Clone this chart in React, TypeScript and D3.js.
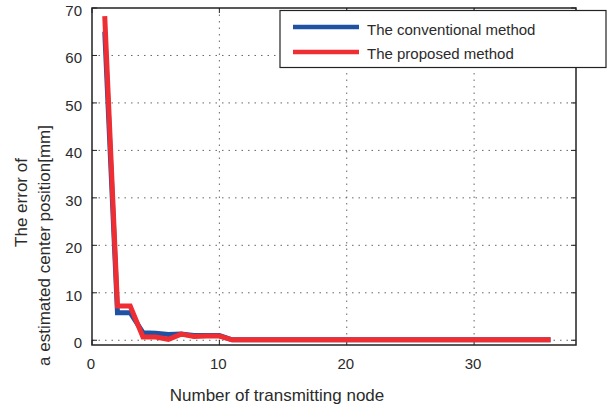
import React from "react";
import * as d3 from "d3";

const nodes: number[] = [
  1, 2, 3, 4, 5, 6, 7, 8, 9, 10, 11, 12, 13, 14, 15, 16, 17, 18,
  19, 20, 21, 22, 23, 24, 25, 26, 27, 28, 29, 30, 31, 32, 33, 34, 35, 36,
];
const conventional: number[] = [
  65.0, 5.8, 5.8, 1.6, 1.5, 1.2, 1.3, 1.0, 1.0, 1.0, 0.1, 0.1, 0.1, 0.1, 0.1, 0.1, 0.1, 0.1,
  0.1, 0.1, 0.1, 0.1, 0.1, 0.1, 0.1, 0.1, 0.1, 0.1, 0.1, 0.1, 0.1, 0.1, 0.1, 0.1, 0.1, 0.1,
];
const proposed: number[] = [
  68.3, 7.2, 7.2, 0.7, 0.7, 0.2, 1.3, 0.8, 0.9, 0.9, 0.1, 0.1, 0.1, 0.1, 0.1, 0.1, 0.1, 0.1,
  0.1, 0.1, 0.1, 0.1, 0.1, 0.1, 0.1, 0.1, 0.1, 0.1, 0.1, 0.1, 0.1, 0.1, 0.1, 0.1, 0.1, 0.1,
];
const xTicks: number[] = [0, 10, 20, 30];
const yTicks: number[] = [0, 10, 20, 30, 40, 50, 60, 70];
const seriesNames: string[] = ["The conventional method", "The proposed method"];
const seriesColors: string[] = ["#1f52a3", "#ee2e33"];

const W = 608;
const H = 408;
const L = 92;
const R = 576;
const T = 8;
const B = 345;
const FONT = "'Liberation Sans', Arial, sans-serif";
const TXT = "#2b2b2b";

export default function App() {
  const x = d3.scaleLinear().domain([0, 38]).range([L, R]);
  const y = d3.scaleLinear().domain([-1, 70]).range([B, T]);
  const line = d3
    .line<[number, number]>()
    .x((d) => x(d[0]))
    .y((d) => y(d[1]));
  const series = [conventional, proposed].map((vals) =>
    nodes.map((n, i) => [n, vals[i]] as [number, number])
  );

  return (
    <svg
      width={W}
      height={H}
      style={{ position: "absolute", left: 0, top: 0, background: "#fff" }}
      fontFamily={FONT}
    >
      <rect x={0} y={0} width={W} height={H} fill="#fff" />
      {yTicks
        .filter((t) => t < 70)
        .map((t) => (
          <line
            key={"gy" + t}
            x1={L}
            x2={R}
            y1={y(t)}
            y2={y(t)}
            stroke="#666"
            strokeWidth={1}
            strokeDasharray="1.5,5"
          />
        ))}
      {xTicks
        .filter((t) => t > 0)
        .map((t) => (
          <line
            key={"gx" + t}
            x1={x(t)}
            x2={x(t)}
            y1={T}
            y2={B}
            stroke="#666"
            strokeWidth={1}
            strokeDasharray="1.5,5"
          />
        ))}
      {yTicks.map((t) => (
        <g key={"ty" + t}>
          <line x1={L} x2={L + 5} y1={y(t)} y2={y(t)} stroke="#222" />
          <line x1={R} x2={R - 5} y1={y(t)} y2={y(t)} stroke="#222" />
          <text
            x={82}
            y={y(t) + 4}
            textAnchor="end"
            dominantBaseline="middle"
            fontSize={15}
            fill={TXT}
          >
            {t}
          </text>
        </g>
      ))}
      {xTicks.map((t) => (
        <g key={"tx" + t}>
          <line x1={x(t)} x2={x(t)} y1={B} y2={B - 5} stroke="#222" />
          <line x1={x(t)} x2={x(t)} y1={T} y2={T + 5} stroke="#222" />
          <text
            x={x(t) - 1}
            y={365}
            textAnchor="middle"
            dominantBaseline="middle"
            fontSize={15}
            fill={TXT}
          >
            {t}
          </text>
        </g>
      ))}
      {series.map((s, i) => (
        <path
          key={"s" + i}
          d={line(s) || ""}
          fill="none"
          stroke={seriesColors[i]}
          strokeWidth={5}
          strokeLinejoin="miter"
        />
      ))}
      <rect
        x={L}
        y={T}
        width={R - L}
        height={B - T}
        fill="none"
        stroke="#222"
        strokeWidth={1.5}
      />
      <rect x={280} y={10.5} width={326} height={57} fill="#fff" stroke="#222" strokeWidth={1.2} />
      {seriesNames.map((n, i) => (
        <g key={"lg" + i}>
          <line
            x1={293}
            x2={359}
            y1={27 + i * 25}
            y2={27 + i * 25}
            stroke={seriesColors[i]}
            strokeWidth={4.5}
          />
          <text
            x={367}
            y={31 + i * 24}
            dominantBaseline="middle"
            fontSize={15}
            fill={TXT}
          >
            {n}
          </text>
        </g>
      ))}
      <text x={277} y={397} textAnchor="middle" dominantBaseline="middle" fontSize={17} fill={TXT}>
        Number of transmitting node
      </text>
      <text
        transform={`translate(27,202.5) rotate(-90)`}
        textAnchor="middle"
        fontSize={17}
        fill={TXT}
      >
        The error of
      </text>
      <text
        transform={`translate(50,245.5) rotate(-90)`}
        textAnchor="middle"
        fontSize={17}
        fill={TXT}
      >
        a estimated center position[mm]
      </text>
    </svg>
  );
}
